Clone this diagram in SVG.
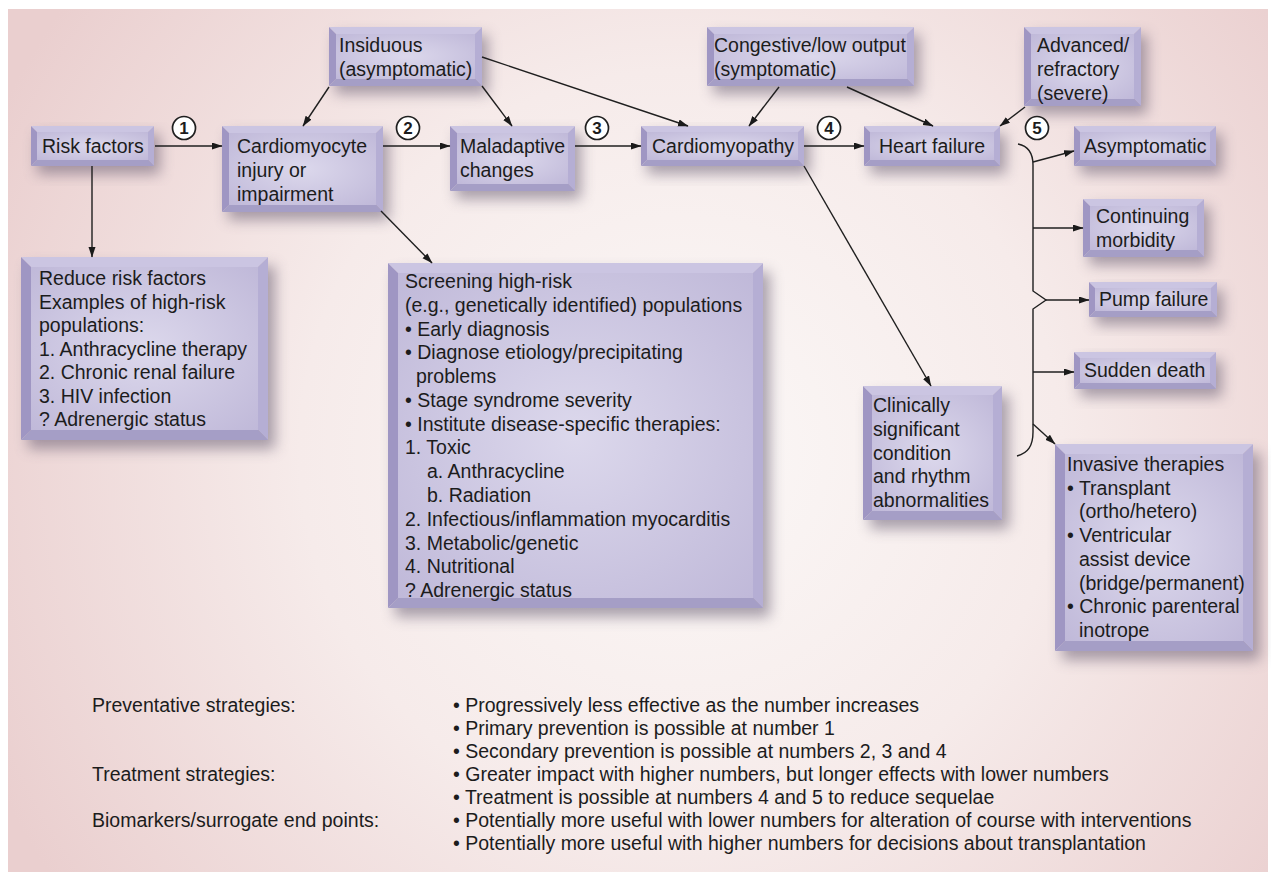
<svg xmlns="http://www.w3.org/2000/svg" width="1271" height="882" viewBox="0 0 1271 882">
<defs>
<radialGradient id="bg" cx="680" cy="450" r="760" gradientUnits="userSpaceOnUse">
<stop offset="0" stop-color="#fbf8f7"/>
<stop offset="0.5" stop-color="#f6ebea"/>
<stop offset="1" stop-color="#eacfcf"/>
</radialGradient>
<radialGradient id="face" cx="0.5" cy="0.5" r="0.7">
<stop offset="0" stop-color="#dcd8ec"/>
<stop offset="1" stop-color="#c0b9d9"/>
</radialGradient>
<filter id="blur" x="-30%" y="-30%" width="160%" height="160%">
<feGaussianBlur stdDeviation="7"/>
</filter>
<marker id="ah" markerWidth="11" markerHeight="8" refX="10" refY="3.5" orient="auto" markerUnits="userSpaceOnUse">
<path d="M0,0 L10.5,3.5 L0,7 z" fill="#1a1a1a"/>
</marker>
</defs>
<style>
text{font-family:"Liberation Sans",Arial,sans-serif;fill:#1c1c1c}
.t{font-size:19.5px}
.b{font-size:19.5px}
.n{font-size:17px;font-weight:bold;text-anchor:middle}
.sh{fill:#5a5068;opacity:0.5;filter:url(#blur)}
.bt{fill:#cbc5e2}
.bl{fill:#9f96c3}
.br{fill:#b5aed4}
.bb{fill:#a59ec6}
.fc{fill:url(#face)}
.ln{fill:none;stroke:#1f1f1f;stroke-width:1.4}
.ar{marker-end:url(#ah)}
.cir{fill:#fff;stroke:#1f1f1f;stroke-width:1.7}
</style>
<rect x="8" y="9" width="1260" height="863" fill="url(#bg)"/>

<g id="risk-factors">
<rect class="sh" x="37" y="134" width="123" height="40"/>
<polygon class="bt" points="31,126 154,126 148,132 37,132"/>
<polygon class="bl" points="31,126 37,132 37,160 31,166"/>
<polygon class="br" points="154,126 154,166 148,160 148,132"/>
<polygon class="bb" points="31,166 37,160 148,160 154,166"/>
<rect class="fc" x="37" y="132" width="111" height="28"/>
<text class="t" x="42" y="153">Risk factors</text>
</g>

<g id="cardiomyocyte">
<rect class="sh" x="228" y="134" width="161" height="86"/>
<polygon class="bt" points="222,126 383,126 376,133 229,133"/>
<polygon class="bl" points="222,126 229,133 229,205 222,212"/>
<polygon class="br" points="383,126 383,212 376,205 376,133"/>
<polygon class="bb" points="222,212 229,205 376,205 383,212"/>
<rect class="fc" x="229" y="133" width="147" height="72"/>
<text class="t" x="237" y="153">Cardiomyocyte</text>
<text class="t" x="237" y="177">injury or</text>
<text class="t" x="237" y="201">impairment</text>
</g>

<g id="insiduous">
<rect class="sh" x="335" y="35" width="153" height="59"/>
<polygon class="bt" points="329,27 482,27 475,34 336,34"/>
<polygon class="bl" points="329,27 336,34 336,79 329,86"/>
<polygon class="br" points="482,27 482,86 475,79 475,34"/>
<polygon class="bb" points="329,86 336,79 475,79 482,86"/>
<rect class="fc" x="336" y="34" width="139" height="45"/>
<text class="t" x="339" y="52">Insiduous</text>
<text class="t" x="339" y="76">(asymptomatic)</text>
</g>

<g id="maladaptive">
<rect class="sh" x="456" y="134" width="125" height="65"/>
<polygon class="bt" points="450,126 575,126 568,133 457,133"/>
<polygon class="bl" points="450,126 457,133 457,184 450,191"/>
<polygon class="br" points="575,126 575,191 568,184 568,133"/>
<polygon class="bb" points="450,191 457,184 568,184 575,191"/>
<rect class="fc" x="457" y="133" width="111" height="51"/>
<text class="t" x="460" y="153">Maladaptive</text>
<text class="t" x="460" y="177">changes</text>
</g>

<g id="cardiomyopathy">
<rect class="sh" x="647" y="134" width="163" height="40"/>
<polygon class="bt" points="641,126 804,126 798,132 647,132"/>
<polygon class="bl" points="641,126 647,132 647,160 641,166"/>
<polygon class="br" points="804,126 804,166 798,160 798,132"/>
<polygon class="bb" points="641,166 647,160 798,160 804,166"/>
<rect class="fc" x="647" y="132" width="151" height="28"/>
<text class="t" x="652" y="153">Cardiomyopathy</text>
</g>

<g id="congestive">
<rect class="sh" x="713" y="35" width="207" height="59"/>
<polygon class="bt" points="707,27 914,27 907,34 714,34"/>
<polygon class="bl" points="707,27 714,34 714,79 707,86"/>
<polygon class="br" points="914,27 914,86 907,79 907,34"/>
<polygon class="bb" points="707,86 714,79 907,79 914,86"/>
<rect class="fc" x="714" y="34" width="193" height="45"/>
<text class="t" x="714" y="52">Congestive/low output</text>
<text class="t" x="714" y="76">(symptomatic)</text>
</g>

<g id="advanced">
<rect class="sh" x="1030" y="35" width="117" height="79"/>
<polygon class="bt" points="1024,27 1141,27 1134,34 1031,34"/>
<polygon class="bl" points="1024,27 1031,34 1031,99 1024,106"/>
<polygon class="br" points="1141,27 1141,106 1134,99 1134,34"/>
<polygon class="bb" points="1024,106 1031,99 1134,99 1141,106"/>
<rect class="fc" x="1031" y="34" width="103" height="65"/>
<text class="t" x="1037" y="52">Advanced/</text>
<text class="t" x="1037" y="76">refractory</text>
<text class="t" x="1037" y="100">(severe)</text>
</g>

<g id="heart-failure">
<rect class="sh" x="870" y="134" width="136" height="40"/>
<polygon class="bt" points="864,126 1000,126 994,132 870,132"/>
<polygon class="bl" points="864,126 870,132 870,160 864,166"/>
<polygon class="br" points="1000,126 1000,166 994,160 994,132"/>
<polygon class="bb" points="864,166 870,160 994,160 1000,166"/>
<rect class="fc" x="870" y="132" width="124" height="28"/>
<text class="t" x="879" y="153">Heart failure</text>
</g>

<g id="asymptomatic">
<rect class="sh" x="1080" y="134" width="142" height="40"/>
<polygon class="bt" points="1074,126 1216,126 1210,132 1080,132"/>
<polygon class="bl" points="1074,126 1080,132 1080,160 1074,166"/>
<polygon class="br" points="1216,126 1216,166 1210,160 1210,132"/>
<polygon class="bb" points="1074,166 1080,160 1210,160 1216,166"/>
<rect class="fc" x="1080" y="132" width="130" height="28"/>
<text class="t" x="1084" y="153">Asymptomatic</text>
</g>

<g id="continuing-morbidity">
<rect class="sh" x="1089" y="207" width="121" height="58"/>
<polygon class="bt" points="1083,199 1204,199 1197,206 1090,206"/>
<polygon class="bl" points="1083,199 1090,206 1090,250 1083,257"/>
<polygon class="br" points="1204,199 1204,257 1197,250 1197,206"/>
<polygon class="bb" points="1083,257 1090,250 1197,250 1204,257"/>
<rect class="fc" x="1090" y="206" width="107" height="44"/>
<text class="t" x="1096" y="223">Continuing</text>
<text class="t" x="1096" y="247">morbidity</text>
</g>

<g id="pump-failure">
<rect class="sh" x="1095" y="290" width="128" height="35"/>
<polygon class="bt" points="1089,282 1217,282 1211,288 1095,288"/>
<polygon class="bl" points="1089,282 1095,288 1095,311 1089,317"/>
<polygon class="br" points="1217,282 1217,317 1211,311 1211,288"/>
<polygon class="bb" points="1089,317 1095,311 1211,311 1217,317"/>
<rect class="fc" x="1095" y="288" width="116" height="23"/>
<text class="t" x="1099" y="306">Pump failure</text>
</g>

<g id="sudden-death">
<rect class="sh" x="1080" y="360" width="142" height="37"/>
<polygon class="bt" points="1074,352 1216,352 1210,358 1080,358"/>
<polygon class="bl" points="1074,352 1080,358 1080,383 1074,389"/>
<polygon class="br" points="1216,352 1216,389 1210,383 1210,358"/>
<polygon class="bb" points="1074,389 1080,383 1210,383 1216,389"/>
<rect class="fc" x="1080" y="358" width="130" height="25"/>
<text class="t" x="1084" y="377">Sudden death</text>
</g>

<g id="invasive-therapies">
<rect class="sh" x="1062" y="453" width="198" height="207"/>
<polygon class="bt" points="1055,444 1253,444 1243,454 1065,454"/>
<polygon class="bl" points="1055,444 1065,454 1065,641 1055,651"/>
<polygon class="br" points="1253,444 1253,651 1243,641 1243,454"/>
<polygon class="bb" points="1055,651 1065,641 1243,641 1253,651"/>
<rect class="fc" x="1065" y="454" width="178" height="187"/>
<text class="t" x="1067" y="471">Invasive therapies</text>
<text class="t" x="1067" y="495">• Transplant</text>
<text class="t" x="1079" y="518">(ortho/hetero)</text>
<text class="t" x="1067" y="542">• Ventricular</text>
<text class="t" x="1079" y="566">assist device</text>
<text class="t" x="1079" y="590">(bridge/permanent)</text>
<text class="t" x="1067" y="613">• Chronic parenteral</text>
<text class="t" x="1079" y="637">inotrope</text>
</g>

<g id="clinically-significant">
<rect class="sh" x="870" y="395" width="139" height="134"/>
<polygon class="bt" points="863,386 1002,386 993,395 872,395"/>
<polygon class="bl" points="863,386 872,395 872,511 863,520"/>
<polygon class="br" points="1002,386 1002,520 993,511 993,395"/>
<polygon class="bb" points="863,520 872,511 993,511 1002,520"/>
<rect class="fc" x="872" y="395" width="121" height="116"/>
<text class="t" x="873" y="412">Clinically</text>
<text class="t" x="873" y="436">significant</text>
<text class="t" x="873" y="460">condition</text>
<text class="t" x="873" y="483">and rhythm</text>
<text class="t" x="873" y="507">abnormalities</text>
</g>

<g id="reduce-risk-factors">
<rect class="sh" x="28" y="266" width="247" height="183"/>
<polygon class="bt" points="21,257 268,257 258,267 31,267"/>
<polygon class="bl" points="21,257 31,267 31,430 21,440"/>
<polygon class="br" points="268,257 268,440 258,430 258,267"/>
<polygon class="bb" points="21,440 31,430 258,430 268,440"/>
<rect class="fc" x="31" y="267" width="227" height="163"/>
<text class="t" x="39" y="285">Reduce risk factors</text>
<text class="t" x="39" y="308.5">Examples of high-risk</text>
<text class="t" x="39" y="332">populations:</text>
<text class="t" x="39" y="355.5">1. Anthracycline therapy</text>
<text class="t" x="39" y="379">2. Chronic renal failure</text>
<text class="t" x="39" y="402.5">3. HIV infection</text>
<text class="t" x="39" y="426">? Adrenergic status</text>
</g>

<g id="screening">
<rect class="sh" x="395" y="272" width="375" height="345"/>
<polygon class="bt" points="388,263 763,263 753,273 398,273"/>
<polygon class="bl" points="388,263 398,273 398,598 388,608"/>
<polygon class="br" points="763,263 763,608 753,598 753,273"/>
<polygon class="bb" points="388,608 398,598 753,598 763,608"/>
<rect class="fc" x="398" y="273" width="355" height="325"/>
<text class="t" x="405" y="288">Screening high-risk</text>
<text class="t" x="405" y="311.8">(e.g., genetically identified) populations</text>
<text class="t" x="405" y="335.5">• Early diagnosis</text>
<text class="t" x="405" y="359.3">• Diagnose etiology/precipitating</text>
<text class="t" x="416" y="383">problems</text>
<text class="t" x="405" y="406.8">• Stage syndrome severity</text>
<text class="t" x="405" y="430.6">• Institute disease-specific therapies:</text>
<text class="t" x="405" y="454.4">1. Toxic</text>
<text class="t" x="427" y="478.2">a. Anthracycline</text>
<text class="t" x="427" y="501.9">b. Radiation</text>
<text class="t" x="405" y="525.7">2. Infectious/inflammation myocarditis</text>
<text class="t" x="405" y="549.5">3. Metabolic/genetic</text>
<text class="t" x="405" y="573.2">4. Nutritional</text>
<text class="t" x="405" y="597">? Adrenergic status</text>
</g>

<g id="connectors">
<path class="ln ar" d="M155,146 L222,146"/>
<path class="ln ar" d="M383,146 L450,146"/>
<path class="ln ar" d="M575,146 L641,146"/>
<path class="ln ar" d="M804,146 L864,146"/>
<path class="ln ar" d="M329,87 L303,126"/>
<path class="ln ar" d="M482,86 L512,126"/>
<path class="ln ar" d="M482,57 L688,126"/>
<path class="ln ar" d="M779,87 L749,126"/>
<path class="ln ar" d="M847,87 L933,126"/>
<path class="ln ar" d="M1025,107 L1000,126"/>
<path class="ln ar" d="M92,166 L92,257"/>
<path class="ln ar" d="M381,211 L432,263"/>
<path class="ln ar" d="M804,166 L931,386"/>
<path class="ln" d="M1018,144 C1028,146 1033,152 1033,165 L1033,291 L1046,300 L1033,309 L1033,432 C1033,446 1028,453 1017,456"/>
<path class="ln ar" d="M1033,162 L1074,151"/>
<path class="ln ar" d="M1033,228 L1083,228"/>
<path class="ln ar" d="M1046,300 L1089,300"/>
<path class="ln ar" d="M1033,372 L1074,372"/>
<path class="ln ar" d="M1033,424 L1055,444"/>
</g>

<g id="step-numbers">
<circle class="cir" cx="184" cy="128" r="11.5"/><text class="n" x="184" y="134">1</text>
<circle class="cir" cx="408" cy="128" r="11.5"/><text class="n" x="408" y="134">2</text>
<circle class="cir" cx="597" cy="128" r="11.5"/><text class="n" x="597" y="134">3</text>
<circle class="cir" cx="829" cy="128" r="11.5"/><text class="n" x="829" y="134">4</text>
<circle class="cir" cx="1037" cy="128" r="11.5"/><text class="n" x="1037" y="134">5</text>
</g>

<g id="legend">
<text class="b" x="92" y="712">Preventative strategies:</text>
<text class="b" x="92" y="781">Treatment strategies:</text>
<text class="b" x="92" y="827">Biomarkers/surrogate end points:</text>
<text class="b" x="453" y="712">• Progressively less effective as the number increases</text>
<text class="b" x="453" y="735">• Primary prevention is possible at number 1</text>
<text class="b" x="453" y="758">• Secondary prevention is possible at numbers 2, 3 and 4</text>
<text class="b" x="453" y="781">• Greater impact with higher numbers, but longer effects with lower numbers</text>
<text class="b" x="453" y="804">• Treatment is possible at numbers 4 and 5 to reduce sequelae</text>
<text class="b" x="453" y="827">• Potentially more useful with lower numbers for alteration of course with interventions</text>
<text class="b" x="453" y="850">• Potentially more useful with higher numbers for decisions about transplantation</text>
</g>
</svg>
